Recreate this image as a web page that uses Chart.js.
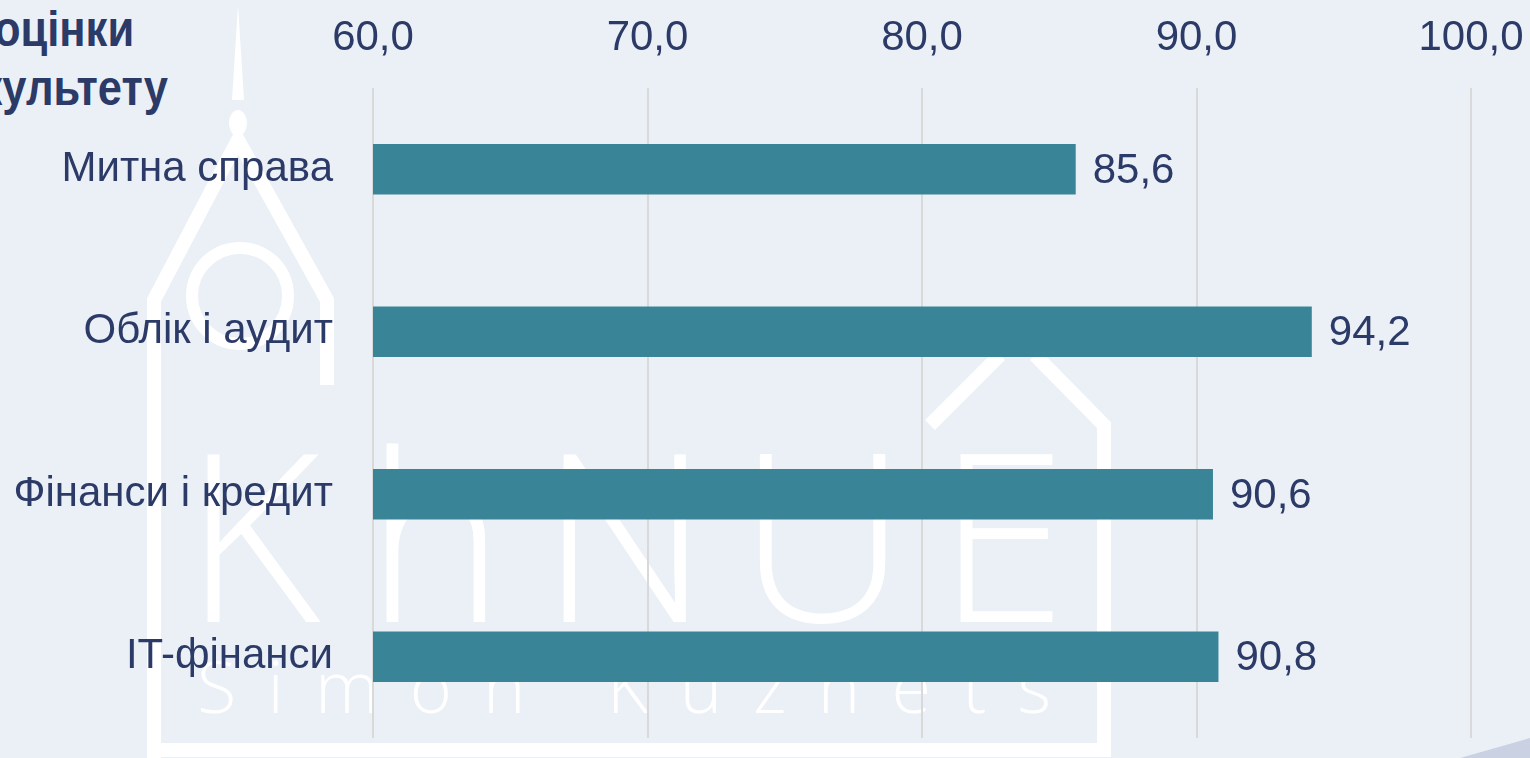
<!DOCTYPE html>
<html lang="uk">
<head>
<meta charset="utf-8">
<script src="https://cdn.jsdelivr.net/npm/chart.js@4.4.1/dist/chart.umd.min.js"></script>
<style>
    html, body { margin: 0; padding: 0; }
    body { width: 1530px; height: 758px; background: #ebf0f7; position: relative; overflow: hidden; font-family: "Liberation Sans", Arial, sans-serif; }
    #watermark { position: absolute; left: 0; top: 0; }
    #wrap { position: absolute; left: 0; top: 0; width: 1530px; height: 758px; }
    .title { position: absolute; font-weight: bold; font-size: 50px; line-height: 1; color: #2b3a67; white-space: nowrap; transform: scaleX(0.87); transform-origin: right center; }
</style>
</head>
<body>
<svg id="watermark" width="1530" height="758">
    <g fill="none" stroke="#ffffff" stroke-width="14">
        <polyline points="154,758 154,300 238,140 327,300 327,385" />
        <circle cx="240" cy="296" r="48" stroke-width="12" />
        <polyline points="930,425 1000,355" />
        <polyline points="1035,355 1104,425 1104,750 154,750" />
    </g>
    <polygon points="232,100 238,5 244,100" fill="#ffffff" />
    <ellipse cx="238" cy="123" rx="9" ry="13" fill="#ffffff" />
    <text x="184 366 540 738 937" y="622" fill="#ffffff" font-family="Open Sans, DejaVu Sans, sans-serif" font-weight="300" font-size="235">KhNUE</text>
    <text x="197" y="713" fill="#ffffff" font-family="Open Sans, DejaVu Sans, sans-serif" font-weight="300" font-size="72" textLength="854" lengthAdjust="spacing">Simon Kuznets</text>
    <polygon points="1460,758 1530,738 1530,758" fill="#c9d1e3" />
</svg>
<div class="title" style="right: 1396px; top: 4px;">оцінки</div>
<div class="title" style="right: 1362px; top: 63px;">факультету</div>
<div id="wrap"><canvas id="grafico" width="1530" height="758"></canvas></div>
<script>
    const categorias = ["Митна справа", "Облік і аудит", "Фінанси і кредит", "IT-фінанси"];
    const valores = [85.6, 94.2, 90.6, 90.8];
    const ticksEixo = [60, 70, 80, 90, 100];

    const corTexto = "#2b3a67";
    const corBarra = "#3a8497";
    const fonte = "'Liberation Sans', Arial, sans-serif";

    const rotulosValores = {
        id: "rotulosValores",
        afterDatasetsDraw(chart) {
            const ctx = chart.ctx;
            const meta = chart.getDatasetMeta(0);
            ctx.save();
            ctx.font = "42px " + fonte;
            ctx.fillStyle = corTexto;
            ctx.textAlign = "left";
            ctx.textBaseline = "middle";
            meta.data.forEach((barra, i) => {
                ctx.fillText(valores[i].toFixed(1).replace(".", ","), barra.x + 17, barra.y + 2);
            });
            ctx.restore();
        }
    };

    // sem o padding automatico das escalas
    function semPadding(escala) {
        escala.paddingTop = 0;
        escala.paddingBottom = 0;
        escala.paddingLeft = 0;
        escala.paddingRight = 0;
    }

    const graficoResultados = document.getElementById("grafico");

    new Chart(graficoResultados, {
        type: "bar",
        data: {
            labels: categorias,
            datasets: [{
                data: valores,
                backgroundColor: corBarra,
                borderWidth: 0,
                categoryPercentage: 1,
                barPercentage: 0.31
            }]
        },
        options: {
            indexAxis: "y",
            responsive: false,
            animation: false,
            devicePixelRatio: 1,
            layout: { padding: { top: 0, right: 59, bottom: 20, left: 0 } },
            plugins: {
                legend: { display: false },
                tooltip: { enabled: false }
            },
            scales: {
                x: {
                    position: "top",
                    min: 60,
                    max: 100,
                    afterBuildTicks: (escala) => {
                        escala.ticks = ticksEixo.map((v) => ({ value: v }));
                    },
                    afterFit: (escala) => { escala.height = 88; semPadding(escala); },
                    grid: { color: "#d9d9d9", lineWidth: 2, drawTicks: false },
                    border: { display: false },
                    ticks: {
                        padding: 24,
                        color: corTexto,
                        font: { family: fonte, size: 42 },
                        callback: (v) => Number(v).toFixed(1).replace(".", ",")
                    }
                },
                y: {
                    afterFit: (escala) => { escala.width = 373; semPadding(escala); },
                    grid: { display: false, drawTicks: false },
                    border: { display: false },
                    ticks: {
                        padding: 40,
                        color: corTexto,
                        font: { family: fonte, size: 42 }
                    }
                }
            }
        },
        plugins: [rotulosValores]
    });
</script>
</body>
</html>
